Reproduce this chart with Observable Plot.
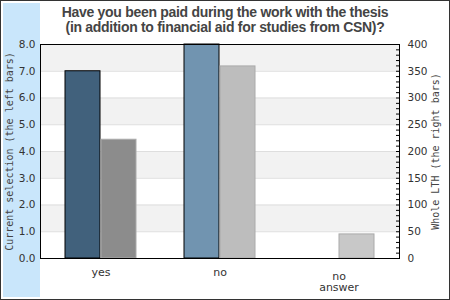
<!DOCTYPE html>
<html>
<head>
<meta charset="utf-8">
<script src="https://cdn.jsdelivr.net/npm/d3@7"></script>
<script src="https://cdn.jsdelivr.net/npm/@observablehq/plot@0.6"></script>
<style>
  html, body { margin: 0; padding: 0; background: #fff; }
  #wrap { position: relative; width: 450px; height: 300px; overflow: hidden; background: #fff; }
  #strip { position: absolute; left: 3px; top: 3px; width: 37px; height: 294px; background: #c9e6fb; }
  #title { position: absolute; left: 0; top: 5px; width: 450px; text-align: center;
           font: bold 14px "Liberation Sans", Arial, sans-serif; line-height: 15px; color: #444;
           letter-spacing: -0.3px; }
  #chart { position: absolute; left: 0; top: 0; }
  #chart svg { background: transparent !important; }
  #border { position: absolute; left: 0; top: 0; width: 450px; height: 300px; box-sizing: border-box;
            border: 1px solid #333; pointer-events: none; }
</style>
</head>
<body>
<div id="wrap">
  <div id="strip"></div>
  <div id="chart"></div>
  <div id="title">Have you been paid during the work with the thesis<br>(in addition to financial aid for studies from CSN)?</div>
  <div id="border"></div>
</div>
<script>
const categories = ["yes", "no", "no answer"];
const categoryLabels = ["yes", "no", "no\nanswer"];
const currentSelection = [7.0, 8.0, 0.0];
const wholeLTH = [222, 359, 45];
const currentColors = ["#41617c", "#7194b0", "#7194b0"];
const wholeColors = ["#8c8c8c", "#bdbdbd", "#c8c8c8"];
const leftTicks = [0, 1, 2, 3, 4, 5, 6, 7, 8];
const rightTicks = [0, 50, 100, 150, 200, 250, 300, 350, 400];
const rightMinorTicks = d3.range(0, 401, 10);
const shadedBands = [[1, 2], [3, 4], [5, 6], [7, 8]];
const leftTitle = "Current selection (the left bars)";
const rightTitle = "Whole LTH (the right bars)";

const rightMax = 400, leftMax = 8;
const toLeft = v => v * leftMax / rightMax;

const rows = categories.map((c, i) => ({
  cat: c, label: categoryLabels[i],
  cur: currentSelection[i], whole: toLeft(wholeLTH[i]),
  curColor: currentColors[i], wholeColor: wholeColors[i]
}));
const bands = shadedBands.map(([a, b]) => ({a, b}));
const labelOf = new Map(categories.map((c, i) => [c, categoryLabels[i]]));

const chart = Plot.plot({
  width: 450, height: 300,
  marginLeft: 40, marginRight: 51, marginTop: 44, marginBottom: 42,
  style: {background: "transparent", fontFamily: "DejaVu Sans", fontSize: "10.5px", color: "#333"},
  x: {domain: categories, paddingInner: 0.4, paddingOuter: 0.2, axis: null},
  y: {domain: [0, leftMax], axis: null},
  marks: [
    Plot.rect(bands, {y1: "a", y2: "b", fill: "#f2f2f2"}),
    Plot.gridY(leftTicks.slice(1, -1), {stroke: "#dedede", strokeOpacity: 1}),
    Plot.barY(rows, {x: "cat", y: "cur", fill: "curColor", stroke: "black", strokeWidth: 1, insetRight: 36, filter: d => d.cur > 0}),
    Plot.barY(rows, {x: "cat", y: "whole", fill: "wholeColor", stroke: "#aaa", strokeWidth: 1, insetLeft: 36}),
    Plot.frame({stroke: "black"}),
    Plot.axisY({ticks: leftTicks, tickSize: 0, tickPadding: 5, tickFormat: d => d.toFixed(1), label: null, anchor: "left", fontSize: 10.5}),
    Plot.axisY({ticks: rightMinorTicks.map(toLeft), tickSize: 4, dx: -4, tickFormat: () => "", label: null, anchor: "right", stroke: "black"}),
    Plot.axisY({ticks: rightTicks.map(toLeft), tickSize: 0, tickPadding: 8, tickFormat: d => String(Math.round(d * rightMax / leftMax)), label: null, anchor: "right", fontSize: 10.5}),
    Plot.axisX({ticks: categories.filter(c => !labelOf.get(c).includes("\n")), tickSize: 0, tickPadding: 10, tickFormat: c => labelOf.get(c), label: null, fontSize: 11}),
    Plot.axisX({ticks: categories.filter(c => labelOf.get(c).includes("\n")), tickSize: 0, tickPadding: 13, tickFormat: c => labelOf.get(c), label: null, fontSize: 11, lineHeight: 1.05}),
    Plot.text([leftTitle], {frameAnchor: "left", textAnchor: "middle", dx: -31, rotate: -90, fontFamily: "DejaVu Sans Mono", fontSize: 10, fill: "#444"}),
    Plot.text([rightTitle], {frameAnchor: "right", textAnchor: "middle", dx: 36, rotate: -90, fontFamily: "DejaVu Sans Mono", fontSize: 10, fill: "#444"})
  ]
});
document.getElementById("chart").appendChild(chart);
</script>
</body>
</html>
